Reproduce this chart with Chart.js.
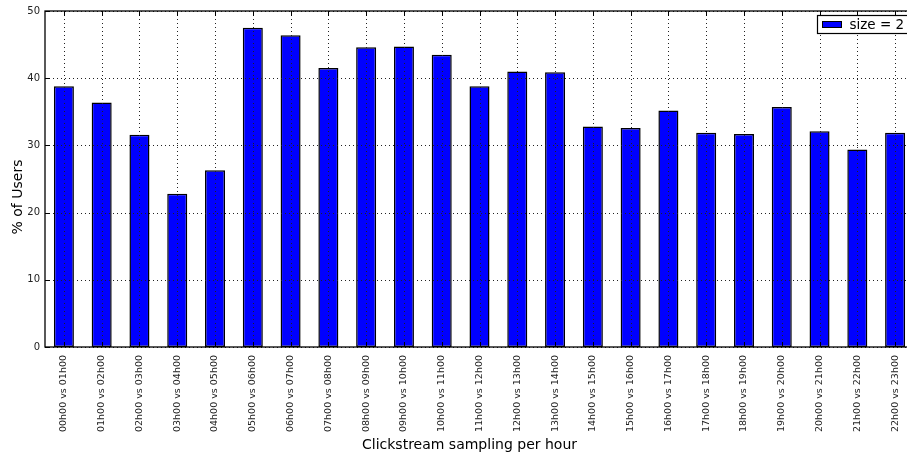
<!DOCTYPE html>
<html>
<head>
<meta charset="utf-8">
<script src="https://cdn.jsdelivr.net/npm/chart.js@4/dist/chart.umd.min.js"></script>
<style>
  html, body { margin: 0; padding: 0; background: #ffffff; }
  #wrap { width: 907px; height: 455px; overflow: hidden; position: relative; }
  canvas { display: block; }
</style>
</head>
<body>
<div id="wrap"><canvas id="c" width="914" height="455"></canvas></div>
<script>
// Hour-pair comparisons on the x axis
const categories = [
  "00h00 vs 01h00", "01h00 vs 02h00", "02h00 vs 03h00", "03h00 vs 04h00",
  "04h00 vs 05h00", "05h00 vs 06h00", "06h00 vs 07h00", "07h00 vs 08h00",
  "08h00 vs 09h00", "09h00 vs 10h00", "10h00 vs 11h00", "11h00 vs 12h00",
  "12h00 vs 13h00", "13h00 vs 14h00", "14h00 vs 15h00", "15h00 vs 16h00",
  "16h00 vs 17h00", "17h00 vs 18h00", "18h00 vs 19h00", "19h00 vs 20h00",
  "20h00 vs 21h00", "21h00 vs 22h00", "22h00 vs 23h00"
];

// Share of users (%) for sample size 2
const usersPct = [
  38.8, 36.4, 31.6, 22.8, 26.3, 47.5, 46.4, 41.5, 44.6, 44.7, 43.5, 38.8,
  41.0, 40.9, 32.8, 32.6, 35.2, 31.9, 31.7, 35.7, 32.1, 29.4, 31.9
];

const seriesLabel = "size = 2";
const yTickValues = [0, 10, 20, 30, 40, 50];
const xTitle = "Clickstream sampling per hour";
const yTitle = "% of Users";

const FONT = "'DejaVu Sans', sans-serif";

// Grid, spines, inward ticks, legend and axis titles drawn on top of the bars
const overlay = {
  id: 'overlay',
  afterDatasetsDraw(chart) {
    const ctx = chart.ctx;
    const a = chart.chartArea;
    const xs = chart.scales.x, ys = chart.scales.y;
    ctx.save();

    // dotted grid
    ctx.strokeStyle = '#222';
    ctx.lineWidth = 1;
    ctx.setLineDash([1, 3]);
    yTickValues.forEach(v => {
      const y = Math.round(ys.getPixelForValue(v)) + 0.5;
      ctx.beginPath(); ctx.moveTo(a.left, y); ctx.lineTo(a.right, y); ctx.stroke();
    });
    categories.forEach((c, i) => {
      const x = Math.round(xs.getPixelForValue(i)) + 0.5;
      ctx.beginPath(); ctx.moveTo(x, a.top); ctx.lineTo(x, a.bottom); ctx.stroke();
    });
    ctx.setLineDash([]);

    // inward tick marks
    ctx.strokeStyle = '#000';
    ctx.lineWidth = 1;
    yTickValues.forEach(v => {
      const y = Math.round(ys.getPixelForValue(v)) + 0.5;
      ctx.beginPath(); ctx.moveTo(a.left, y); ctx.lineTo(a.left + 5, y); ctx.stroke();
      ctx.beginPath(); ctx.moveTo(a.right, y); ctx.lineTo(a.right - 5, y); ctx.stroke();
    });
    categories.forEach((c, i) => {
      const x = Math.round(xs.getPixelForValue(i)) + 0.5;
      ctx.beginPath(); ctx.moveTo(x, a.top); ctx.lineTo(x, a.top + 5); ctx.stroke();
      ctx.beginPath(); ctx.moveTo(x, a.bottom); ctx.lineTo(x, a.bottom - 5); ctx.stroke();
    });

    // spines
    ctx.lineWidth = 1.3;
    ctx.strokeStyle = '#000';
    ctx.strokeRect(a.left, a.top, a.right - a.left, a.bottom - a.top);

    // legend box in the upper right corner
    const lx = 817.5, ly = 15.5, lh = 18;
    ctx.fillStyle = '#ffffff';
    ctx.fillRect(lx, ly, 120, lh);
    ctx.lineWidth = 1.2;
    ctx.strokeRect(lx, ly, 120, lh);
    ctx.fillStyle = '#0000ff';
    ctx.fillRect(822, 21, 20, 7);
    ctx.lineWidth = 1;
    ctx.strokeRect(822.5, 21.5, 19, 6);
    ctx.fillStyle = '#000';
    ctx.font = '13.5px ' + FONT;
    ctx.textAlign = 'left';
    ctx.textBaseline = 'middle';
    ctx.fillText(chart.data.datasets[0].label, 849.5, 25);

    // axis titles
    ctx.font = '14px ' + FONT;
    ctx.textAlign = 'center';
    ctx.textBaseline = 'middle';
    ctx.fillText(xTitle, 469.5, 445);
    ctx.save();
    ctx.translate(18, 197);
    ctx.rotate(-Math.PI / 2);
    ctx.fillText(yTitle, 0, 0);
    ctx.restore();

    ctx.restore();
  }
};

new Chart(document.getElementById('c'), {
  type: 'bar',
  data: {
    labels: categories,
    datasets: [{
      label: seriesLabel,
      data: usersPct,
      backgroundColor: '#0000ff',
      borderColor: '#000000',
      borderWidth: 1.5,
      borderSkipped: false,
      barPercentage: 0.53,
      categoryPercentage: 1.0
    }]
  },
  options: {
    responsive: false,
    devicePixelRatio: 1,
    animation: false,
    layout: { padding: { top: 11, right: 0, bottom: 0, left: 0 } },
    plugins: {
      legend: { display: false },
      tooltip: { enabled: false }
    },
    scales: {
      x: {
        offset: true,
        grid: { display: false, drawTicks: false },
        border: { display: false },
        ticks: {
          autoSkip: false,
          minRotation: 90,
          maxRotation: 90,
          padding: 8,
          color: '#222',
          font: { family: FONT, size: 9.5 }
        },
        afterFit(scale) {
          scale.height = 108;
          scale.paddingLeft = 0;
          scale.paddingRight = 0;
        }
      },
      y: {
        min: 0,
        max: 50,
        grid: { display: false, drawTicks: false },
        border: { display: false },
        ticks: {
          stepSize: 10,
          padding: 5,
          color: '#222',
          font: { family: FONT, size: 10 }
        },
        afterFit(scale) {
          scale.width = 45;
          scale.paddingTop = 0;
          scale.paddingBottom = 0;
        }
      }
    }
  },
  plugins: [overlay]
});
</script>
</body>
</html>
